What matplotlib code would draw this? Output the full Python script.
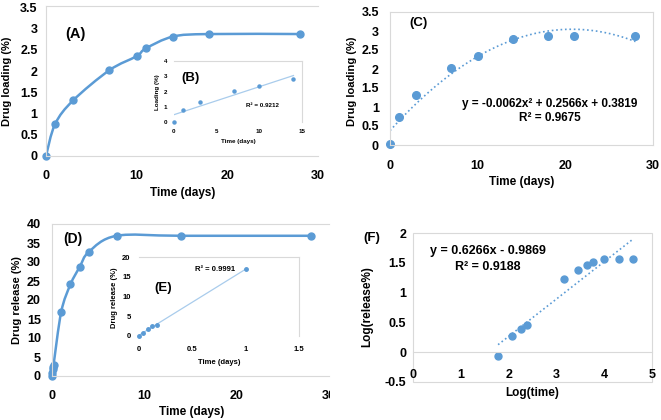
import numpy as np
import matplotlib
matplotlib.use("Agg")
import matplotlib.pyplot as plt
from matplotlib.path import Path
from matplotlib.patches import PathPatch, Rectangle
from matplotlib.transforms import Bbox, TransformedBbox

plt.rcParams['font.family'] = ['Liberation Sans', 'DejaVu Sans']
plt.rcParams['font.weight'] = 'bold'

BLUE = '#5B9BD5'
TREND = '#A9CCEC'
FRAME = '#D9D9D9'

# ---------- data ----------
# (A) drug loading vs time
a_days = [0, 1, 3, 7, 10, 11, 14, 18, 28]
a_load = [0.0, 0.75, 1.31, 2.02, 2.35, 2.53, 2.81, 2.87, 2.87]
# (B) inset, first two weeks
b_days = [0, 1, 3, 7, 10, 14]
b_load = [0.02, 0.76, 1.32, 2.03, 2.35, 2.82]
# (C) drug loading with polynomial trendline
c_days = [0, 1, 3, 7, 10, 14, 18, 21, 28]
c_load = [0.02, 0.75, 1.31, 2.02, 2.35, 2.80, 2.86, 2.86, 2.86]
# (D) drug release vs time
d_days = [0, 0.042, 0.083, 0.125, 0.167, 1, 2, 3, 4, 7, 14, 28]
d_release = [0, 0.85, 1.8, 2.45, 2.9, 16.9, 24.1, 28.7, 32.7, 36.9, 36.9, 36.9]
# (E) inset, first day
e_days = [0, 0.042, 0.083, 0.125, 0.167, 1]
e_release = [0, 0.85, 1.8, 2.45, 2.9, 16.9]
# (F) log-log release
f_logtime = [1.78, 2.08, 2.25, 2.38, 3.16, 3.46, 3.64, 3.77, 4.00, 4.31, 4.61]
f_logrel = [-0.07, 0.27, 0.39, 0.46, 1.23, 1.38, 1.46, 1.51, 1.57, 1.57, 1.57]

W, H = 661, 420
fig = plt.figure(figsize=(W / 100, H / 100), dpi=100)


def px_axes(l, t, r, b):
    # pixel box (from top-left) -> figure axes
    return fig.add_axes([l / W, 1 - b / H, (r - l) / W, (b - t) / H])


def ftext(x, y, s, **kw):
    fig.text(x / W, 1 - y / H, s, ha='center', va='center', **kw)


def style(ax, fs, xpad, ypad, spines=True):
    for sp in ax.spines.values():
        sp.set_color(FRAME)
        sp.set_linewidth(0.8)
        sp.set_visible(spines)
    ax.tick_params(length=0, labelsize=fs)
    ax.tick_params(axis='x', pad=xpad)
    ax.tick_params(axis='y', pad=ypad)
    for lab in ax.get_xticklabels() + ax.get_yticklabels():
        lab.set_fontweight('bold')


def fmt(vals):
    return [f'{v:g}' for v in vals]


def smooth_path(x, y):
    # Excel-like smoothed line: Catmull-Rom segments as cubic Beziers
    pts = np.column_stack([x, y]).astype(float)
    n = len(pts)
    verts = [pts[0]]
    codes = [Path.MOVETO]
    for i in range(n - 1):
        p0 = pts[max(i - 1, 0)]
        p1 = pts[i]
        p2 = pts[i + 1]
        p3 = pts[min(i + 2, n - 1)]
        verts += [p1 + (p2 - p0) / 6, p2 - (p3 - p1) / 6, p2]
        codes += [Path.CURVE4] * 3
    return Path(verts, codes)


# ========== (A) ==========
axA = px_axes(46, 6, 318, 156)
axA.add_patch(PathPatch(smooth_path(a_days, a_load), facecolor='none',
                        edgecolor=BLUE, lw=1.8))
axA.plot(a_days, a_load, 'o', color=BLUE, ms=5, clip_on=False)
axA.set_xlim(0, 30)
axA.set_ylim(0, 3.53)
axA.set_xticks([0, 10, 20, 30], fmt([0, 10, 20, 30]))
axA.set_yticks(np.arange(0, 3.51, 0.5), fmt(np.arange(0, 3.51, 0.5)))
style(axA, 9, 10, 6)
axA.spines['right'].set_visible(False)
ftext(75, 34, '(A)', fontsize=10.5, fontweight='bold')
ftext(7, 81, 'Drug loading (%)', rotation=90, fontsize=8, fontweight='bold')
ftext(183, 193, 'Time (days)', fontsize=8.5, fontweight='bold')

# inset (B)
axB = px_axes(174, 61, 302, 122)
coef_b = np.polyfit(b_days, b_load, 1)
xb = np.array([0, 14])
axB.plot(xb, np.polyval(coef_b, xb), color=TREND, lw=0.9)
axB.plot(b_days, b_load, 'o', color=BLUE, ms=2.2, clip_on=False)
axB.set_xlim(0, 15)
axB.set_ylim(0, 4)
axB.set_xticks([0, 5, 10, 15], fmt([0, 5, 10, 15]))
axB.set_yticks([0, 1, 2, 3, 4], fmt([0, 1, 2, 3, 4]))
style(axB, 4.5, 5, 5)
axB.spines['left'].set_visible(False)
axB.spines['bottom'].set_visible(False)
axB.text(10.4, 1.05, 'R² = 0.9212', fontsize=4.5, ha='center', va='center')
axB.text(1.9, 2.9, '(B)', fontsize=9.5, fontweight='bold', ha='center', va='center')
ftext(158, 92, 'Loading (%)', rotation=90, fontsize=4.5, fontweight='bold')
ftext(238, 142, 'Time (days)', fontsize=4.5, fontweight='bold')

# ========== (C) ==========
axC = px_axes(390, 12, 653, 145)
coef_c = np.polyfit(c_days, c_load, 2)
xc = np.linspace(0, 28, 200)
axC.plot(xc, np.polyval(coef_c, xc), ':', color=BLUE, lw=1.2)
axC.plot(c_days, c_load, 'o', color=BLUE, ms=5.5, clip_on=False)
axC.set_xlim(0, 30)
axC.set_ylim(0, 3.5)
axC.set_xticks([0, 10, 20, 30], fmt([0, 10, 20, 30]))
axC.set_yticks(np.arange(0, 3.51, 0.5), fmt(np.arange(0, 3.51, 0.5)))
style(axC, 9, 11, 8)
ftext(418, 23, '(C)', fontsize=9.5, fontweight='bold')
ftext(550, 104, 'y = -0.0062x² + 0.2566x + 0.3819', fontsize=8.5, fontweight='bold')
ftext(550, 118, 'R² = 0.9675', fontsize=8.5, fontweight='bold')
ftext(352, 81, 'Drug loading (%)', rotation=90, fontsize=8, fontweight='bold')
ftext(522, 182, 'Time (days)', fontsize=8.5, fontweight='bold')

# ========== (D) ==========
axD = px_axes(52, 224, 329, 376)
axD.add_patch(PathPatch(smooth_path(d_days, d_release), facecolor='none',
                        edgecolor=BLUE, lw=1.8))
axD.plot(d_days, d_release, 'o', color=BLUE, ms=5, clip_on=False)
axD.set_xlim(0, 30)
axD.set_ylim(0, 40)
axD.set_xticks([0, 10, 20, 30], fmt([0, 10, 20, 30]))
axD.set_yticks(np.arange(0, 41, 5), fmt(np.arange(0, 41, 5)))
style(axD, 9, 10, 8)
axD.spines['right'].set_visible(False)
# the panel is cropped on the right, so only half of "30" shows
cut = TransformedBbox(Bbox([[0, 0], [330 / W, 1]]), fig.transFigure)
for lab in axD.get_xticklabels():
    lab.set_clip_box(cut)
    lab.set_clip_on(True)
ftext(73, 239, '(D)', fontsize=10, fontweight='bold')
ftext(17, 300, 'Drug release (%)', rotation=90, fontsize=8, fontweight='bold')
ftext(192, 412, 'Time (days)', fontsize=8.5, fontweight='bold')

# inset (E)
axE = px_axes(139, 257, 299, 336)
coef_e = np.polyfit(e_days, e_release, 1)
xe = np.array([0, 1])
axE.plot(xe, np.polyval(coef_e, xe), color=TREND, lw=0.9)
axE.plot(e_days, e_release, 'o', color=BLUE, ms=2.5, clip_on=False)
axE.set_xlim(0, 1.5)
axE.set_ylim(0, 20)
axE.set_xticks([0, 0.5, 1, 1.5], fmt([0, 0.5, 1, 1.5]))
axE.set_yticks([0, 5, 10, 15, 20], fmt([0, 5, 10, 15, 20]))
style(axE, 5.5, 7, 6)
axE.spines['left'].set_visible(False)
axE.spines['bottom'].set_visible(False)
axE.text(0.71, 16.8, 'R² = 0.9991', fontsize=5.5, fontweight='bold', ha='center', va='center')
ftext(163, 288, '(E)', fontsize=9.5, fontweight='bold')
ftext(115, 298, 'Drug release (%)', rotation=90, fontsize=5.5, fontweight='bold')
ftext(219, 363, 'Time (days)', fontsize=5.5, fontweight='bold')

# ========== (F) ==========
axF = px_axes(413, 233, 652, 382)
axF.spines['bottom'].set_position(('data', 0))
coef_f = np.polyfit(f_logtime, f_logrel, 1)
xf = np.array([f_logtime[0], f_logtime[-1]])
axF.plot(xf, np.polyval(coef_f, xf), ':', color=BLUE, lw=1.2)
axF.plot(f_logtime, f_logrel, 'o', color=BLUE, ms=5, clip_on=False)
axF.set_xlim(0, 5)
axF.set_ylim(-0.5, 2)
axF.set_xticks([0, 1, 2, 3, 4, 5], fmt([0, 1, 2, 3, 4, 5]))
axF.set_yticks(np.arange(-0.5, 2.01, 0.5), fmt(np.arange(-0.5, 2.01, 0.5)))
style(axF, 9, 12, 5, spines=False)
axF.spines['bottom'].set_visible(True)
axF.add_patch(Rectangle((0, 0), 1, 1, transform=axF.transAxes, fill=False,
                        edgecolor=FRAME, lw=0.8, clip_on=False))
ftext(372, 238, '(F)', fontsize=9.5, fontweight='bold')
ftext(488, 251, 'y = 0.6266x - 0.9869', fontsize=9, fontweight='bold')
ftext(488, 267, 'R² = 0.9188', fontsize=9, fontweight='bold')
ftext(367, 307, 'Log(release%)', rotation=90, fontsize=8.5, fontweight='bold')
ftext(532, 393, 'Log(time)', fontsize=8.5, fontweight='bold')

fig.savefig('out.png', dpi=100, facecolor='white')
